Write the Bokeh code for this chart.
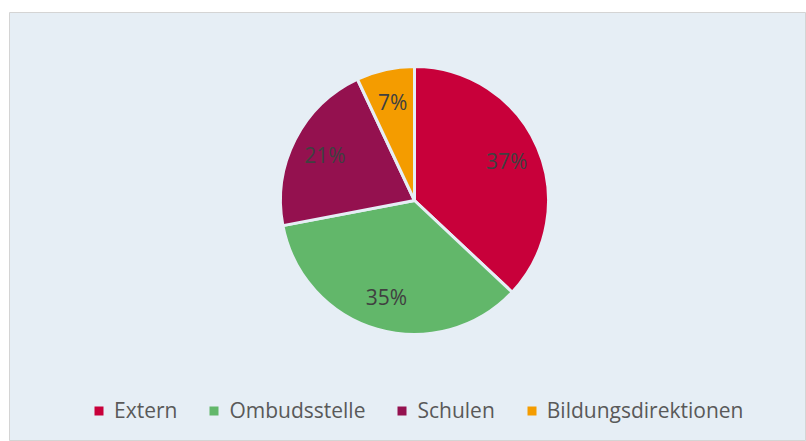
import math
from bokeh.plotting import figure
from bokeh.models import Range1d, Legend, LegendItem, ColumnDataSource
from bokeh.core.properties import value
from bokeh.embed import file_html
from bokeh.resources import INLINE

categories = ["Extern", "Ombudsstelle", "Schulen", "Bildungsdirektionen"]
shares = [37, 35, 21, 7]
labels = ["37%", "35%", "21%", "7%"]
colors = ["#c8003a", "#62b76a", "#94114f", "#f49c00"]

BG = "#e6eef5"
R = 134
LABEL_R = 0.75 * R

p = figure(width=806, height=441, output_backend="svg", toolbar_location=None,
           x_range=Range1d(-405, 392), y_range=Range1d(-241, 188),
           min_border_left=9, min_border_top=12, min_border_right=0, min_border_bottom=0)
p.background_fill_color = BG
p.border_fill_color = "white"
p.outline_line_color = "#d4d4d4"
p.outline_line_width = 1
p.axis.visible = False
p.xgrid.visible = False
p.ygrid.visible = False

total = sum(shares)
starts, ends, lx, ly = [], [], [], []
ang = math.pi / 2
for s in shares:
    span = 2 * math.pi * s / total
    a0 = ang - span
    starts.append(a0)
    ends.append(ang)
    mid = (a0 + ang) / 2
    lx.append(LABEL_R * math.cos(mid))
    ly.append(LABEL_R * math.sin(mid))
    ang = a0

items = []
for i, c in enumerate(categories):
    src = ColumnDataSource(dict(x=[0], y=[0], s=[starts[i]], e=[ends[i]]))
    r = p.wedge(x="x", y="y", radius=R, start_angle="s", end_angle="e",
                fill_color=colors[i], line_color=BG, line_width=3, source=src)
    items.append(LegendItem(label=c, renderers=[r]))

p.text(x=lx, y=ly, text=labels, text_align="center", text_baseline="middle",
       text_font=value("Open Sans"), text_font_size="21px", text_color="#404040")

legend = Legend(items=items, orientation="horizontal", location=(78, 13),
                background_fill_alpha=0, border_line_alpha=0,
                glyph_width=15, glyph_height=15, label_standoff=8, spacing=29,
                label_text_font="Open Sans", label_text_font_size="21px",
                label_text_color="#595959", margin=0, padding=4)
p.add_layout(legend, "center")

open("out.html", "w").write(file_html(p, INLINE))
